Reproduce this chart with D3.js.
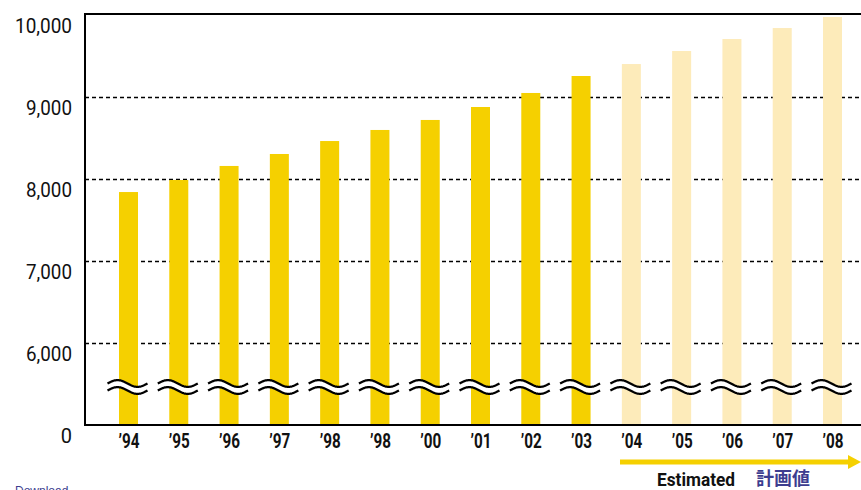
<!DOCTYPE html>
<html>
<head>
<meta charset="utf-8">
<script src="https://cdn.jsdelivr.net/npm/d3@7"></script>
<style>
  html, body { margin: 0; padding: 0; background: #fff; }
  svg { display: block; }
  .nar { font-family: Roboto, "Liberation Sans", sans-serif; }
</style>
</head>
<body>
<svg id="chart" width="861" height="490"></svg>
<script>
// ---- data ----
const yearLabels = ["’94","’95","’96","’97","’98","’98","’00","’01","’02","’03","’04","’05","’06","’07","’08"];
const values = [7841, 7988, 8159, 8305, 8463, 8598, 8720, 8878, 9049, 9256, 9402, 9561, 9707, 9841, 9976];
const estimated = [false,false,false,false,false,false,false,false,false,false,true,true,true,true,true];
const yTicks = [5000, 6000, 7000, 8000, 9000, 10000];
const yTickLabels = ["0", "6,000", "7,000", "8,000", "9,000", "10,000"];
const gridTicks = [6000, 7000, 8000, 9000];

(function () {
const svg = d3.select("#chart");
const pLeft = 85, pTop = 14, pRight = 861, pBottom = 425;

const idx = d3.range(yearLabels.length);
const x = d3.scalePoint().domain(idx).range([128.5, 832.5]);
const y = d3.scaleLinear().domain([5000, 10000]).range([pBottom, pTop + 1]);
const barW = 19;

// gridlines
svg.append("g").selectAll("line").data(gridTicks).join("line")
  .attr("x1", pLeft).attr("x2", pRight)
  .attr("y1", d => Math.round(y(d)) + 0.5).attr("y2", d => Math.round(y(d)) + 0.5)
  .attr("stroke", "#000").attr("stroke-width", 1.3)
  .attr("stroke-dasharray", "4,3");

// bars
svg.append("g").selectAll("rect").data(idx).join("rect")
  .attr("x", i => x(i) - barW / 2)
  .attr("width", barW)
  .attr("y", i => y(values[i]))
  .attr("height", i => pBottom - y(values[i]))
  .attr("fill", i => estimated[i] ? "#FDEBBA" : "#F5D000");

// break symbols
const waveW = 40, amp = 3.4, gap = 7, yc = 387;
function wavePts(x0, y0) {
  const pts = [];
  for (let k = 0; k <= 40; k++) {
    const t = k / 40;
    pts.push([x0 - waveW / 2 + t * waveW, y0 - amp * Math.sin(2 * Math.PI * t)]);
  }
  return pts;
}
const line = d3.line();
const brk = svg.append("g").selectAll("g").data(idx).join("g");
brk.append("path")
  .attr("d", i => {
    const up = wavePts(x(i) - 1, yc - gap / 2);
    const lo = wavePts(x(i) - 1, yc + gap / 2).reverse();
    return line(up.concat(lo)) + "Z";
  })
  .attr("fill", "#fff");
brk.append("path").attr("d", i => line(wavePts(x(i) - 1, yc - gap / 2)))
  .attr("fill", "none").attr("stroke", "#000").attr("stroke-width", 2.3);
brk.append("path").attr("d", i => line(wavePts(x(i) - 1, yc + gap / 2)))
  .attr("fill", "none").attr("stroke", "#000").attr("stroke-width", 2.3);

// frame lines
svg.append("line").attr("x1", pLeft).attr("x2", pRight).attr("y1", pTop).attr("y2", pTop)
  .attr("stroke", "#000").attr("stroke-width", 2);
svg.append("line").attr("x1", pLeft).attr("x2", pLeft).attr("y1", pTop - 1).attr("y2", pBottom + 1)
  .attr("stroke", "#000").attr("stroke-width", 2);
svg.append("line").attr("x1", pLeft - 1).attr("x2", pRight).attr("y1", pBottom).attr("y2", pBottom)
  .attr("stroke", "#000").attr("stroke-width", 2);

// y axis labels
const yAxis = d3.axisLeft(y).tickValues(yTicks).tickSize(0).tickPadding(0)
  .tickFormat((d, i) => yTickLabels[i]);
const gy = svg.append("g").attr("transform", `translate(72,0)`).call(yAxis);
gy.select(".domain").remove();
gy.selectAll("text").attr("class", "nar").attr("font-size", 20).attr("fill", "#111")
  .attr("dy", "1.0em").attr("y", -3)
  .attr("textLength", (d, i) => yTickLabels[i].length === 1 ? null : (yTickLabels[i].length === 6 ? 57 : 46))
  .attr("lengthAdjust", "spacingAndGlyphs");

// x axis labels
const xAxis = d3.axisBottom(x).tickSize(0).tickPadding(0).tickFormat(i => yearLabels[i]);
const gx = svg.append("g").attr("transform", `translate(0,${pBottom})`).call(xAxis);
gx.select(".domain").remove();
gx.selectAll("text").attr("class", "nar").attr("font-size", 20).attr("font-weight", "bold")
  .attr("fill", "#111").attr("dy", 0).attr("y", 23)
  .attr("textLength", 21).attr("lengthAdjust", "spacingAndGlyphs");

// estimated arrow
svg.append("line").attr("x1", 620).attr("x2", 851).attr("y1", 462).attr("y2", 462)
  .attr("stroke", "#F5D000").attr("stroke-width", 5);
svg.append("path").attr("d", "M848,455 L861,462 L848,469 Z").attr("fill", "#F5D000");

svg.append("text").attr("class", "nar").attr("x", 657).attr("y", 486)
  .attr("font-size", 18).attr("font-weight", "bold").attr("fill", "#111")
  .attr("textLength", 78).attr("lengthAdjust", "spacingAndGlyphs").text("Estimated");
svg.append("text").attr("x", 756).attr("y", 485)
  .attr("font-family", "'Noto Sans CJK JP', sans-serif")
  .attr("font-size", 18).attr("font-weight", "bold").attr("fill", "#3d3d8f").text("計画値");

svg.append("text").attr("x", 15).attr("y", 495)
  .attr("font-family", "'Liberation Sans', Arial, sans-serif")
  .attr("font-size", 12).attr("fill", "#3d3d8f").text("Download");
})();
</script>
</body>
</html>
